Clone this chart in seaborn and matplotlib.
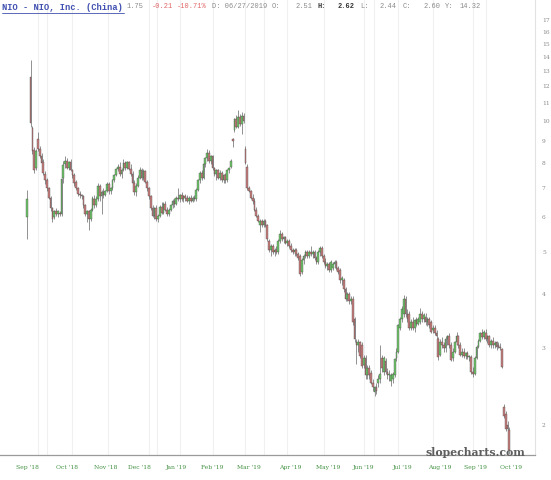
import numpy as np
import pandas as pd
import seaborn as sns
import matplotlib.pyplot as plt
from matplotlib.ticker import FixedLocator, FixedFormatter, NullLocator
from matplotlib.lines import Line2D

nan = float("nan")

# daily candles, Sep 12 2018 -> end of Sep 2019 (index 1 has no data)
opens = [
    6.00, nan, 12.60, 9.60, 8.55, 7.80, 9.10, 8.60, 8.30, 8.05,
    7.55, 7.30, 7.00, 6.65, 6.30, 6.00, 6.20, 6.10, 6.15, 6.10,
    7.40, 7.95, 8.10, 7.80, 8.05, 7.70, 7.50, 7.25, 7.00, 6.80,
    6.75, 6.70, 6.40, 6.10, 6.20, 5.95, 6.25, 6.60, 6.40, 6.60,
    7.10, 6.70, 6.85, 6.75, 6.90, 7.15, 6.90, 7.00, 7.30, 7.50,
    7.75, 7.85, 7.55, 7.70, 8.00, 7.80, 8.05, 7.75, 7.55, 7.20,
    6.85, 7.10, 7.40, 7.70, 7.40, 7.65, 7.25, 7.00, 6.70, 6.30,
    6.05, 6.30, 5.95, 6.05, 6.35, 6.15, 6.45, 6.25, 6.10, 6.25,
    6.40, 6.55, 6.45, 6.65, 6.60, 6.75, 6.60, 6.70, 6.65, 6.55,
    6.65, 6.55, 6.65, 6.60, 6.95, 7.30, 7.60, 7.40, 7.95, 8.20,
    8.45, 8.10, 8.30, 7.80, 7.55, 7.70, 7.40, 7.60, 7.30, 7.50,
    7.30, 7.70, 7.85, 9.10, 9.50, 10.10, 9.70, 10.20, 9.85, 10.25,
    8.60, 7.85, 7.00, 6.90, 6.65, 6.55, 6.25, 6.05, 5.75, 5.90,
    5.75, 5.90, 5.75, 5.30, 5.05, 5.15, 5.00, 5.05, 5.00, 5.30,
    5.50, 5.35, 5.40, 5.25, 5.30, 5.15, 5.05, 5.00, 5.05, 4.95,
    4.90, 4.50, 4.80, 4.90, 5.00, 4.90, 5.00, 4.95, 5.00, 4.85,
    4.75, 5.00, 5.10, 4.90, 4.75, 4.65, 4.70, 4.55, 4.60, 4.70,
    4.75, 4.60, 4.55, 4.30, 4.30, 4.10, 3.90, 4.00, 3.85, 3.90,
    3.50, 3.10, 3.05, 3.10, 3.05, 2.75, 2.85, 2.60, 2.70, 2.64,
    2.50, 2.38, 2.44, 2.50, 2.55, 2.85, 2.65, 2.80, 2.65, 2.60,
    2.52, 2.55, 2.60, 2.85, 2.95, 3.35, 3.50, 3.60, 3.90, 3.60,
    3.60, 3.35, 3.45, 3.35, 3.48, 3.42, 3.45, 3.60, 3.50, 3.55,
    3.45, 3.50, 3.45, 3.30, 3.35, 3.25, 3.15, 2.90, 3.10, 3.05,
    3.00, 3.15, 3.20, 3.05, 2.85, 2.95, 3.10, 3.20, 3.05, 2.90,
    2.95, 2.88, 2.92, 2.86, 2.87, 2.65, 2.62, 2.85, 3.02, 3.12,
    3.25, 3.18, 3.25, 3.15, 3.20, 3.05, 3.12, 3.05, 3.10, 3.05,
    3.03, 2.99, 2.20, 2.12, 2.00, 1.95,
]
highs = [
    6.93, nan, 13.80, 9.75, 8.70, 8.60, 9.40, 8.75, 8.45, 8.15,
    7.65, 7.40, 7.05, 6.70, 6.35, 6.25, 6.30, 6.25, 6.20, 7.40,
    8.10, 8.30, 8.20, 8.10, 8.15, 7.75, 7.60, 7.30, 7.05, 6.90,
    6.80, 6.75, 6.45, 6.25, 6.25, 6.30, 6.70, 6.75, 6.70, 7.20,
    7.15, 6.95, 7.00, 6.95, 7.25, 7.25, 7.05, 7.35, 7.55, 7.80,
    7.95, 8.05, 7.80, 8.15, 8.10, 8.10, 8.10, 7.95, 7.65, 7.30,
    7.20, 7.50, 7.85, 7.80, 7.75, 7.70, 7.30, 7.05, 6.75, 6.40,
    6.35, 6.40, 6.10, 6.40, 6.50, 6.50, 6.55, 6.35, 6.30, 6.45,
    6.60, 6.65, 6.70, 7.00, 6.80, 6.85, 6.75, 6.80, 6.75, 6.70,
    6.75, 6.70, 6.75, 7.00, 7.35, 7.65, 7.70, 8.00, 8.25, 8.60,
    8.55, 8.35, 8.35, 7.85, 7.75, 7.75, 7.70, 7.65, 7.55, 7.60,
    7.75, 7.85, 8.15, 9.15, 10.15, 10.30, 10.60, 10.35, 10.50, 10.40,
    8.75, 7.95, 7.10, 6.95, 6.80, 6.65, 6.35, 6.10, 5.95, 5.95,
    5.95, 5.95, 5.80, 5.35, 5.20, 5.20, 5.10, 5.15, 5.35, 5.60,
    5.55, 5.45, 5.45, 5.35, 5.35, 5.25, 5.10, 5.10, 5.10, 5.00,
    4.95, 4.85, 4.95, 5.05, 5.05, 5.05, 5.15, 5.05, 5.05, 4.90,
    5.05, 5.15, 5.15, 4.95, 4.85, 4.75, 4.75, 4.80, 4.75, 4.80,
    4.80, 4.65, 4.60, 4.40, 4.35, 4.15, 4.05, 4.05, 3.95, 3.95,
    3.55, 3.15, 3.15, 3.12, 3.10, 2.90, 2.90, 2.75, 2.75, 2.68,
    2.55, 2.46, 2.50, 2.60, 3.05, 2.90, 2.88, 2.85, 2.70, 2.68,
    2.64, 2.65, 2.85, 3.00, 3.42, 3.55, 3.75, 3.98, 3.95, 3.70,
    3.65, 3.50, 3.55, 3.50, 3.55, 3.55, 3.72, 3.65, 3.62, 3.62,
    3.55, 3.55, 3.48, 3.40, 3.40, 3.30, 3.18, 3.15, 3.18, 3.10,
    3.20, 3.22, 3.25, 3.10, 3.00, 3.12, 3.27, 3.22, 3.10, 3.00,
    3.00, 2.95, 2.96, 2.90, 2.90, 2.72, 2.88, 3.05, 3.15, 3.28,
    3.32, 3.30, 3.32, 3.22, 3.22, 3.15, 3.18, 3.12, 3.12, 3.10,
    3.08, 3.00, 2.24, 2.15, 2.04, 1.98,
]
lows = [
    5.35, nan, 9.70, 8.40, 7.60, 7.70, 8.50, 8.20, 7.85, 7.50,
    7.15, 6.90, 6.60, 6.20, 5.85, 5.95, 6.05, 6.00, 6.05, 6.05,
    7.20, 7.80, 7.75, 7.70, 7.65, 7.40, 7.10, 6.95, 6.70, 6.65,
    6.60, 6.30, 6.05, 5.85, 5.60, 5.90, 6.20, 6.30, 6.35, 6.55,
    6.55, 6.10, 6.65, 6.70, 6.85, 6.80, 6.80, 6.95, 7.25, 7.45,
    7.65, 7.45, 7.40, 7.65, 7.70, 7.75, 7.70, 7.45, 7.10, 6.75,
    6.70, 7.05, 7.35, 7.30, 7.30, 7.20, 6.90, 6.60, 6.25, 6.00,
    5.95, 5.90, 5.85, 6.00, 6.10, 6.10, 6.20, 6.05, 6.05, 6.20,
    6.30, 6.35, 6.40, 6.55, 6.50, 6.55, 6.50, 6.55, 6.50, 6.45,
    6.50, 6.50, 6.55, 6.55, 6.90, 7.20, 7.30, 7.35, 7.85, 8.10,
    8.00, 7.95, 7.70, 7.45, 7.30, 7.35, 7.30, 7.25, 7.20, 7.20,
    7.25, 7.60, 7.80, 8.70, 9.40, 9.60, 9.60, 9.75, 9.30, 9.90,
    7.95, 6.95, 6.85, 6.60, 6.45, 6.20, 6.00, 5.85, 5.55, 5.70,
    5.70, 5.70, 5.30, 5.00, 4.90, 4.95, 4.90, 4.95, 4.95, 5.25,
    5.30, 5.25, 5.20, 5.15, 5.10, 5.00, 4.95, 4.90, 4.90, 4.80,
    4.40, 4.45, 4.70, 4.85, 4.85, 4.85, 4.90, 4.85, 4.80, 4.70,
    4.70, 4.90, 4.85, 4.70, 4.60, 4.55, 4.50, 4.50, 4.55, 4.60,
    4.55, 4.45, 4.25, 4.20, 4.05, 3.85, 3.85, 3.80, 3.80, 3.40,
    3.10, 2.76, 2.95, 2.85, 2.70, 2.70, 2.55, 2.55, 2.55, 2.48,
    2.40, 2.33, 2.36, 2.45, 2.50, 2.65, 2.60, 2.62, 2.55, 2.52,
    2.46, 2.50, 2.58, 2.80, 2.92, 3.30, 3.45, 3.55, 3.55, 3.45,
    3.30, 3.30, 3.30, 3.28, 3.38, 3.40, 3.42, 3.45, 3.45, 3.40,
    3.38, 3.35, 3.25, 3.25, 3.22, 3.15, 2.82, 2.88, 3.00, 2.95,
    2.95, 3.05, 3.00, 2.80, 2.80, 2.92, 3.05, 3.00, 2.88, 2.86,
    2.85, 2.84, 2.84, 2.80, 2.62, 2.58, 2.60, 2.83, 3.00, 3.10,
    3.15, 3.15, 3.12, 3.08, 3.02, 3.00, 3.00, 3.00, 2.98, 3.00,
    2.98, 2.70, 2.08, 1.94, 1.90, 1.72,
]
closes = [
    6.60, nan, 9.90, 8.50, 7.70, 8.50, 8.60, 8.30, 8.00, 7.60,
    7.30, 7.00, 6.65, 6.30, 5.95, 6.20, 6.10, 6.20, 6.10, 7.35,
    7.90, 8.10, 7.80, 8.05, 7.70, 7.50, 7.20, 7.00, 6.80, 6.75,
    6.70, 6.40, 6.10, 6.20, 5.95, 6.25, 6.65, 6.40, 6.60, 7.10,
    6.70, 6.85, 6.75, 6.90, 7.15, 6.90, 7.00, 7.30, 7.50, 7.75,
    7.85, 7.55, 7.70, 8.00, 7.80, 8.05, 7.75, 7.55, 7.20, 6.85,
    7.10, 7.40, 7.70, 7.40, 7.65, 7.25, 7.00, 6.70, 6.30, 6.05,
    6.30, 5.95, 6.05, 6.35, 6.15, 6.45, 6.25, 6.10, 6.25, 6.40,
    6.55, 6.45, 6.65, 6.60, 6.75, 6.60, 6.70, 6.65, 6.55, 6.65,
    6.55, 6.65, 6.60, 6.95, 7.30, 7.60, 7.40, 7.95, 8.20, 8.45,
    8.10, 8.30, 7.80, 7.55, 7.70, 7.40, 7.60, 7.30, 7.50, 7.30,
    7.70, 7.80, 8.10, 9.00, 10.10, 9.70, 10.20, 9.85, 10.25, 10.00,
    8.00, 7.00, 6.90, 6.65, 6.55, 6.25, 6.05, 5.90, 5.90, 5.75,
    5.90, 5.75, 5.35, 5.05, 5.15, 5.00, 5.05, 5.00, 5.30, 5.50,
    5.35, 5.40, 5.25, 5.30, 5.15, 5.05, 5.00, 5.05, 4.95, 4.85,
    4.45, 4.80, 4.90, 5.00, 4.90, 5.00, 4.95, 5.00, 4.85, 4.75,
    5.00, 5.10, 4.90, 4.75, 4.65, 4.70, 4.55, 4.75, 4.70, 4.75,
    4.60, 4.50, 4.30, 4.35, 4.10, 3.90, 4.00, 3.85, 3.90, 3.45,
    3.15, 3.05, 3.10, 2.88, 2.73, 2.85, 2.60, 2.70, 2.60, 2.50,
    2.45, 2.44, 2.40, 2.55, 2.62, 2.70, 2.85, 2.65, 2.60, 2.62,
    2.60, 2.62, 2.83, 2.95, 3.40, 3.50, 3.70, 3.90, 3.60, 3.50,
    3.35, 3.45, 3.35, 3.48, 3.42, 3.50, 3.60, 3.50, 3.58, 3.45,
    3.50, 3.40, 3.28, 3.35, 3.25, 3.20, 2.87, 3.10, 3.05, 3.00,
    3.15, 3.20, 3.05, 2.82, 2.95, 3.10, 3.20, 3.05, 2.90, 2.95,
    2.88, 2.92, 2.86, 2.88, 2.65, 2.62, 2.85, 3.02, 3.12, 3.25,
    3.18, 3.28, 3.15, 3.20, 3.05, 3.12, 3.05, 3.08, 3.02, 3.03,
    3.00, 2.72, 2.10, 1.96, 1.96, 1.75,
]

month_labels = ["Sep '18", "Oct '18", "Nov '18", "Dec '18", "Jan '19", "Feb '19", "Mar '19",
                "Apr '19", "May '19", "Jun '19", "Jul '19", "Aug '19", "Sep '19", "Oct '19"]
month_days = [0.5, 22, 43, 62, 82, 102, 122, 144.5, 165.5, 184.5, 206, 226.5, 246.5, 266]
price_ticks = list(range(2, 18))
grid_days = [6, 11, 25, 44.5, 67, 71.5, 84, 102, 120, 130, 143, 163, 185, 190.5, 204, 223, 245, 252]

df = pd.DataFrame({"open": opens, "high": highs, "low": lows, "close": closes})
df["day"] = np.arange(len(df))
df = df.dropna()
df["up"] = df["close"] >= df["open"]
df["bottom"] = df[["open", "close"]].min(axis=1)
df["body"] = (df["close"] - df["open"]).abs().clip(lower=0.01)

sns.set_theme(style="white")
plt.rcParams["font.family"] = ["DejaVu Serif"]

fig = plt.figure(figsize=(5.51, 4.80), dpi=100)
ax = fig.add_axes([0, 25 / 480, 535 / 551, 455 / 480])

for g in grid_days:
    ax.axvline(g, color="#f0f0f0", lw=0.8, zorder=0)

up_col = "#6fc66a"
down_col = "#c97d7d"
ax.vlines(df["day"], df["low"], df["high"], color="#555555", lw=0.45, zorder=2)
ax.bar(df["day"], df["body"], bottom=df["bottom"], width=0.95,
       color=np.where(df["up"], up_col, down_col), edgecolor="#444444",
       linewidth=0.25, zorder=3)

ax.set_yscale("log")
ax.set_ylim(1.707, 18.94)
ax.set_xlim(-14.8, 279.1)
ax.yaxis.tick_right()
ax.yaxis.set_major_locator(FixedLocator(price_ticks))
ax.yaxis.set_major_formatter(FixedFormatter([str(p) for p in price_ticks]))
ax.yaxis.set_minor_locator(NullLocator())
ax.set_xticks(month_days)
ax.set_xticklabels(month_labels)
ax.tick_params(axis="y", labelsize=4.3, labelcolor="#8a8a8a", length=0, pad=5)
ax.tick_params(axis="x", labelsize=4.3, labelcolor="#3f8f3f", length=0, pad=7)
ax.grid(False)
for s in ["top", "left"]:
    ax.spines[s].set_visible(False)
ax.spines["right"].set_color("#e2e2e2")
ax.spines["right"].set_linewidth(0.8)
ax.spines["bottom"].set_color("#9a9a9a")
ax.spines["bottom"].set_linewidth(0.9)
ax.set_xlabel("")
ax.set_ylabel("")

# header line
hy = 1 - 7 / 480
mono = "Liberation Mono"
fig.text(2 / 551, hy, "NIO - NIO, Inc. (China)", family=mono, fontsize=6.3,
         weight="bold", color="#4050b0", va="center")
fig.add_artist(Line2D([2 / 551, 124 / 551], [1 - 12.5 / 480] * 2, color="#4050b0", lw=0.6))
pieces = [
    (127, "1.75", "#8a8a8a", "normal"),
    (152, "-0.21", "#e06666", "normal"),
    (177, "-10.71%", "#e06666", "normal"),
    (212, "D: 06/27/2019", "#8a8a8a", "normal"),
    (272, "O:", "#8a8a8a", "normal"),
    (296, "2.51", "#8a8a8a", "normal"),
    (318, "H:", "#333333", "bold"),
    (338, "2.62", "#333333", "bold"),
    (360, "L:", "#8a8a8a", "normal"),
    (380, "2.44", "#8a8a8a", "normal"),
    (403, "C:", "#8a8a8a", "normal"),
    (423, "2.60", "#8a8a8a", "normal"),
    (445, "Y:", "#8a8a8a", "normal"),
    (460, "14.32", "#8a8a8a", "normal"),
]
for px, txt, col, wt in pieces:
    fig.text(px / 551, hy, txt, family=mono, fontsize=5.0, color=col, weight=wt, va="center")

fig.text(525 / 551, 1 - 452 / 480, "slopecharts.com", family="DejaVu Serif", fontsize=7.8,
         weight="bold", color="#5e5e5e", ha="right", va="center", zorder=10)

fig.savefig("out.png", dpi=100)
